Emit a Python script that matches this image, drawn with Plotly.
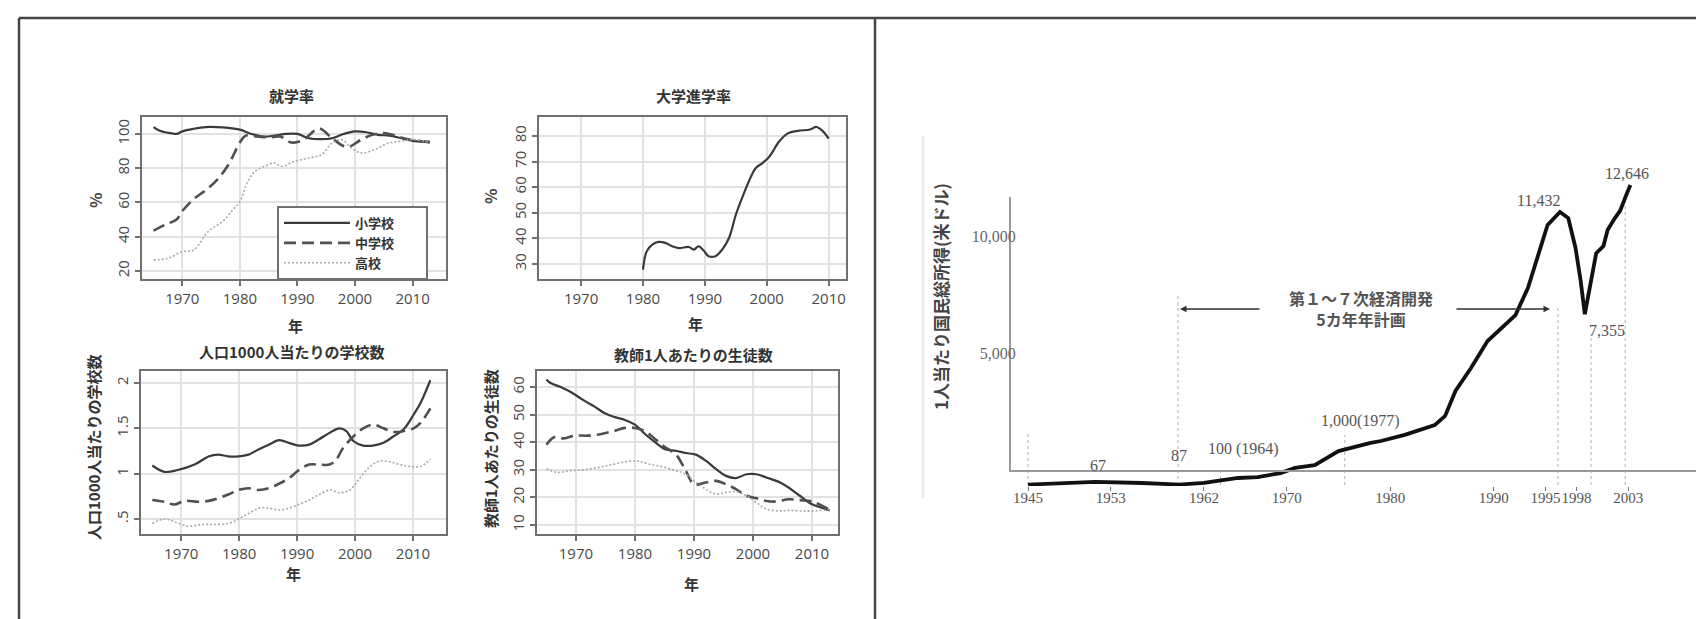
import plotly.graph_objects as go

W, H = 1704, 619

# ---------------- data: 就学率 (%) ----------------
enroll_elem_years = [1965, 1966, 1967, 1968, 1969, 1970, 1972, 1974, 1976, 1978, 1980, 1982, 1984, 1986,
                     1988, 1990, 1992, 1994, 1996, 1998, 2000, 2002, 2004, 2006, 2008, 2010, 2012, 2013]
enroll_elem = [104, 102, 101, 100.5, 100, 101.5, 103, 104, 104, 103.5, 102.5, 100, 98.5, 99,
               100, 100, 97.5, 97, 97.5, 100, 101.5, 101, 99.5, 99, 97.5, 96, 95.5, 95.5]
enroll_mid_years = [1965, 1967, 1969, 1970, 1972, 1974, 1976, 1978, 1980, 1981, 1983, 1985, 1987, 1989,
                    1991, 1993, 1994, 1996, 1998, 1999, 2001, 2003, 2005, 2007, 2009, 2011, 2013]
enroll_mid = [43.5, 47, 50, 55, 62, 67, 73, 82, 95, 99, 98.5, 98, 98.5, 95,
              96.5, 102, 103, 97.5, 93, 92.5, 96.5, 99.5, 100.5, 99, 97, 96, 95]
enroll_high_years = [1965, 1967.5, 1970, 1972, 1974.5, 1977, 1978.5, 1980, 1981.4, 1982.6, 1984.3, 1986,
                     1987.2, 1989.5, 1992, 1994.2, 1996, 1997.7, 1999.4, 2001, 2003.4, 2005.8, 2008, 2010.4, 2013]
enroll_high = [26.4, 27.4, 31.3, 32.3, 43, 48.9, 54.7, 60.6, 72.3, 78.1, 81.1, 83,
               81.1, 84, 86, 87.9, 94.7, 96.7, 91.8, 88.9, 90.8, 94.7, 95.7, 96.7, 95]

# ---------------- data: 大学進学率 (%) ----------------
univ_years = [1980, 1980.6, 1981.5, 1982.5, 1983.6, 1984.7, 1985.8, 1987.4, 1988.2, 1989, 1989.8, 1990.6,
              1991.7, 1992.8, 1993.9, 1995, 1996, 1997.1, 1998.2, 1999.3, 2000.4, 2002, 2003.4, 2005,
              2007, 2008, 2009, 2010]
univ_rate = [27.8, 34.9, 37.5, 38.6, 38.2, 36.9, 36.2, 36.6, 35.6, 36.9, 35.2, 33,
             33, 35.6, 40.1, 49.2, 55.7, 62.2, 67.4, 69.4, 71.9, 77.8, 81, 82,
             82.5, 83.5, 82, 79]

# ---------------- data: 人口1000人当たりの学校数 ----------------
school_elem_years = [1965, 1967.1, 1969.4, 1972.3, 1974.7, 1976.4, 1978.1, 1979.9, 1981.6, 1983.4, 1985.1,
                     1986.9, 1988.6, 1990.3, 1992.1, 1993.8, 1995.6, 1997.3, 1998.5, 1999.7, 2001.4,
                     2003.1, 2004.9, 2006.6, 2008.4, 2010.1, 2011.3, 2013]
school_elem = [1.09, 1.02, 1.04, 1.10, 1.19, 1.21, 1.19, 1.19, 1.21, 1.27, 1.32,
               1.37, 1.34, 1.31, 1.32, 1.38, 1.45, 1.50, 1.47, 1.36, 1.31,
               1.31, 1.34, 1.41, 1.49, 1.65, 1.78, 2.03]
school_mid_years = [1965, 1967.1, 1968.8, 1970.6, 1972.9, 1974.7, 1976.4, 1978.1, 1979.9, 1981.6, 1983.4,
                    1985.1, 1986.9, 1988.6, 1990.3, 1992.1, 1993.8, 1995.6, 1996.7, 1997.9, 1999.7,
                    2001.4, 2003.1, 2004.9, 2006.6, 2008.4, 2010.1, 2011.3, 2013]
school_mid = [0.71, 0.69, 0.66, 0.70, 0.69, 0.70, 0.73, 0.77, 0.82, 0.84, 0.82,
              0.84, 0.89, 0.95, 1.04, 1.10, 1.10, 1.10, 1.15, 1.28, 1.41,
              1.50, 1.54, 1.50, 1.46, 1.47, 1.50, 1.56, 1.72]
school_high_years = [1965, 1967.1, 1968.8, 1971.2, 1973.5, 1975.8, 1978.1, 1979.9, 1981.6, 1983.4, 1985.1,
                     1986.9, 1988.6, 1990.3, 1992.1, 1993.8, 1995.6, 1997.3, 1999.1, 2000.8, 2002.6,
                     2004.3, 2006.0, 2007.8, 2009.5, 2011.3, 2013]
school_high = [0.45, 0.50, 0.47, 0.42, 0.44, 0.44, 0.45, 0.50, 0.56, 0.62, 0.62,
               0.60, 0.62, 0.66, 0.71, 0.77, 0.82, 0.79, 0.82, 0.95, 1.08,
               1.14, 1.13, 1.10, 1.08, 1.08, 1.16]

# ---------------- data: 教師1人あたりの生徒数 ----------------
ratio_elem_years = [1965, 1965.7, 1967.4, 1969.1, 1971.4, 1973.1, 1974.9, 1976.6, 1978.3, 1980, 1981.7,
                    1983.4, 1985.1, 1986.9, 1988.6, 1990.3, 1992, 1993.7, 1995.4, 1997.1, 1998.9,
                    2000.6, 2002.3, 2004.6, 2006, 2008, 2010, 2012, 2013]
ratio_elem = [62.7, 61.5, 60, 58.2, 55.1, 53, 50.5, 49.1, 48.1, 46.4, 43,
              40, 37.5, 36.9, 36.1, 35.5, 33.3, 30.3, 27.8, 27, 28.4,
              28.4, 27.2, 25.4, 23.6, 20.5, 17.5, 16, 15.3]
ratio_mid_years = [1965, 1966.3, 1968, 1969.7, 1972, 1974.3, 1976.6, 1978.3, 1980, 1981.7, 1983.4,
                   1985.1, 1986.9, 1988.6, 1990, 1992, 1993.7, 1995.4, 1997.1, 1998.9, 2000.6,
                   2002.3, 2004, 2006, 2008, 2010, 2013]
ratio_mid = [39.1, 41.8, 41.4, 42.4, 42.4, 43, 44.2, 45.2, 45.2, 44, 41.2,
             38.2, 35.7, 29.7, 24.8, 25.4, 26, 24.8, 23, 20.6, 19.7,
             18.7, 18.5, 19.3, 19, 18.5, 15.5]
ratio_high_years = [1965, 1966.9, 1969.1, 1971.4, 1974.3, 1976.6, 1978.9, 1980.6, 1982.3, 1984.6, 1986.9,
                    1988.6, 1990, 1992, 1993.7, 1995.4, 1997.1, 1998.9, 2000.6, 2002.3, 2004.6,
                    2006, 2009, 2013]
ratio_high = [30.3, 29.1, 29.7, 30, 31.1, 32.1, 33.1, 33.1, 32.1, 31.1, 29.7,
              28.4, 26, 23, 21.2, 21.8, 22.1, 20.6, 18.1, 15.7, 15.1,
              15.3, 15, 15.5]

# ---------------- data: 1人当たり国民総所得 (米ドル) ----------------
gni_years = [1945, 1948, 1951.5, 1956, 1959.6, 1962, 1963.6, 1965.3, 1967.2, 1969.4, 1970.8, 1972.7,
             1975, 1976.9, 1978.1, 1979.1, 1981.4, 1984.3, 1985.3, 1986.3, 1987.8, 1989.4, 1991.1,
             1992.1, 1993.3, 1994.3, 1995.2, 1996.4, 1997.2, 1997.9, 1998.4, 1998.8, 1999.4,
             1999.9, 2000.6, 2001, 2001.7, 2002.2, 2002.8, 2003.2]
gni_values = [20, 85, 130, 85, 20, 87, 210, 300, 340, 510, 730, 850,
              1450, 1670, 1800, 1880, 2140, 2560, 2950, 4020, 5000, 6150, 6840,
              7260, 8420, 9830, 11110, 11670, 11410, 10130, 8720, 7300, 8630,
              9910, 10210, 10900, 11410, 11710, 12390, 12820]
gni_tick_years = [1945, 1953, 1962, 1970, 1980, 1990, 1995, 1998, 2003]
gni_label_ticks = [5000, 10000]
guide_years = [1945, 1959.5, 1963.6, 1975.6, 1996.2, 1999.4, 2002.7]
guide_tops = [2300, 8080, 600, 2140, 7560, 6450, 12480]
point_labels = ["67", "87", "100 (1964)", "1,000(1977)", "11,432", "7,355", "12,646"]


def fx(p):
    return p / W


def fy(p):
    return 1 - p / H


fig = go.Figure()

STYLES = [dict(color="#3a3a3a", width=2.2),
          dict(color="#505050", width=2.6, dash="12px,6px"),
          dict(color="#a8a8a8", width=1.6, dash="2px,2px")]
PAD = "\u00a0" * 9
NAMES = ["<b>小学校</b>" + PAD, "<b>中学校</b>" + PAD, "<b>高校</b>" + PAD]


def add_three(xa, ya, series, legend):
    for (xs, ys), st, nm in zip(series, STYLES, NAMES):
        fig.add_trace(go.Scatter(x=xs, y=ys, mode="lines", line=st, line_shape="spline",
                                 name=nm, showlegend=legend, xaxis=xa, yaxis=ya, hoverinfo="skip"))


add_three("x", "y", [(enroll_elem_years, enroll_elem), (enroll_mid_years, enroll_mid),
                     (enroll_high_years, enroll_high)], True)
fig.add_trace(go.Scatter(x=univ_years, y=univ_rate, mode="lines", line=STYLES[0], line_shape="spline",
                         showlegend=False, xaxis="x2", yaxis="y2", hoverinfo="skip"))
add_three("x3", "y3", [(school_elem_years, school_elem), (school_mid_years, school_mid),
                       (school_high_years, school_high)], False)
add_three("x4", "y4", [(ratio_elem_years, ratio_elem), (ratio_mid_years, ratio_mid),
                       (ratio_high_years, ratio_high)], False)
fig.add_trace(go.Scatter(x=[None], y=[None], mode="lines", showlegend=False,
                         xaxis="x7", yaxis="y6", hoverinfo="skip"))
fig.add_trace(go.Scatter(x=gni_years, y=gni_values, mode="lines",
                         line=dict(color="#111111", width=3.8),
                         showlegend=False, xaxis="x5", yaxis="y5", hoverinfo="skip"))

TICKFONT = dict(family="Open Sans, Noto Sans", size=15, color="#4a4a4a")


def frame_axis(dom, rng, anchor, **kw):
    d = dict(domain=dom, range=rng, anchor=anchor, showline=True, mirror=True,
             linecolor="#707070", linewidth=2, showgrid=True, gridcolor="#e2e2e2",
             gridwidth=1.5, ticks="outside", ticklen=5, tickwidth=1.5, tickcolor="#707070",
             tickfont=TICKFONT, zeroline=False, fixedrange=True)
    d.update(kw)
    return d


xt = dict(tickvals=[1970, 1980, 1990, 2000, 2010])
top_y = [fy(271), fy(109)]
bot_y = [fy(526), fy(363)]

# right chart scale helpers
ZERO_PX = 477.0
PPU = 117.0 / 5000.0


def yr(p):
    return 1945 + (p - 1020) / 10.35


fig.update_layout(
    width=W, height=H, margin=dict(l=0, r=0, t=0, b=0),
    paper_bgcolor="white", plot_bgcolor="rgba(0,0,0,0)", hovermode=False,
    xaxis=frame_axis([fx(134), fx(438)], [1963.0, 2015.8], "y", **xt),
    yaxis=frame_axis(top_y, [15.3, 109.9], "x", tickvals=[20, 40, 60, 80, 100], tickangle=-90),
    xaxis2=frame_axis([fx(531), fx(838)], [1963.2, 2012.8], "y2", **xt),
    yaxis2=frame_axis(top_y, [24.1, 87.4], "x2", tickvals=[30, 40, 50, 60, 70, 80], tickangle=-90),
    xaxis3=frame_axis([fx(133), fx(438)], [1963.05, 2015.7], "y3", **xt),
    yaxis3=frame_axis(bot_y, [0.335, 2.132], "x3", tickvals=[0.5, 1, 1.5, 2],
                      ticktext=[".5", "1", "1.5", "2"], tickangle=-90),
    xaxis4=frame_axis([fx(529), fx(830)], [1963.4, 2014.4], "y4", **xt),
    yaxis4=frame_axis(bot_y, [6.72, 65.84], "x4", tickvals=[10, 20, 30, 40, 50, 60], tickangle=-90),
    xaxis5=dict(domain=[fx(1003), fx(1695)], range=[yr(1003), yr(1695)], anchor="y5",
                showline=False, showgrid=False, zeroline=False, ticks="outside", ticklen=4,
                tickwidth=1.2, tickcolor="#777", tickvals=gni_tick_years, tickangle=0,
                ticklabelstandoff=-6,
                tickfont=dict(family="Liberation Serif", size=15, color="#555"), fixedrange=True),
    yaxis5=dict(domain=[fy(478), fy(130)], range=[-(478 - ZERO_PX) / PPU, (ZERO_PX - 130) / PPU],
                anchor="x5", visible=False, fixedrange=True),
    xaxis7=dict(domain=[fx(1003), fx(1695)], range=[0, 1], anchor="y6", showline=True,
                linecolor="#9a9a9a", linewidth=2, showgrid=False, zeroline=False,
                showticklabels=False, ticks="", fixedrange=True),
    yaxis6=dict(domain=[fy(462), fy(189)], range=[0, (462 - 189) / PPU], anchor="x7",
                showline=True, linecolor="#9a9a9a", linewidth=2, showgrid=False, zeroline=False,
                ticks="", tickvals=gni_label_ticks, tickformat=",", ticklabelstandoff=-10,
                tickfont=dict(family="Liberation Serif", size=16, color="#666"), fixedrange=True),
    legend=dict(x=fx(269), y=fy(198), xanchor="left", yanchor="top", bgcolor="white",
                bordercolor="#707070", borderwidth=2, itemwidth=66,
                font=dict(family="Noto Sans CJK JP", size=13, color="#333")),
)

shapes = []
# outer frame (top, left) and divider
shapes.append(dict(type="line", xref="paper", yref="paper", x0=fx(11), x1=1, y0=fy(10), y1=fy(10),
                   line=dict(color="#444", width=2.5)))
shapes.append(dict(type="line", xref="paper", yref="paper", x0=fx(11), x1=fx(11), y0=0, y1=fy(10),
                   line=dict(color="#444", width=2.5)))
shapes.append(dict(type="line", xref="paper", yref="paper", x0=fx(867), x1=fx(867), y0=0, y1=fy(10),
                   line=dict(color="#444", width=2.5)))
# faint line left of the GNI y title
shapes.append(dict(type="line", xref="paper", yref="paper", x0=fx(915), x1=fx(915), y0=fy(490), y1=fy(128),
                   line=dict(color="#eeeeee", width=3)))
for gx, gt in zip(guide_years, guide_tops):
    shapes.append(dict(type="line", xref="x5", yref="y5", x0=gx, x1=gx, y0=0, y1=gt,
                       line=dict(color="#bdbdbd", width=1.2, dash="dot"), layer="below"))
fig.update_layout(shapes=shapes)

ann = []
JP = "Noto Sans CJK JP"


def text(t, x, y, size=15, color="#333", angle=0, family=JP):
    ann.append(dict(text=t, x=fx(x), y=fy(y), xref="paper", yref="paper", showarrow=False,
                    xanchor="center", yanchor="middle", textangle=angle,
                    font=dict(family=family, size=size, color=color)))


text("<b>就学率</b>", 283, 87)
text("<b>大学進学率</b>", 685, 87)
text("<b>人口1000人当たりの学校数</b>", 283, 343)
text("<b>教師1人あたりの生徒数</b>", 685, 347)
text("<b>年</b>", 287, 317)
text("<b>年</b>", 687, 315)
text("<b>年</b>", 285, 565)
text("<b>年</b>", 683, 575)
text("<b>%</b>", 87, 193, angle=-90, size=16, color="#444")
text("<b>%</b>", 482, 188, angle=-90, size=16, color="#444")
text("<b>人口1000人当たりの学校数</b>", 85, 440, angle=-90)
text("<b>教師1人あたりの生徒数</b>", 482, 440, angle=-90)
text("<b>1人当たり国民総所得(米ドル)</b>", 932, 289, angle=-90, size=17, color="#444")
text("<b>第１～７次経済開発</b><br><b>5カ年年計画</b>", 1353, 300, size=16, color="#555")

label_pos = [(1090, 457), (1171, 447), (1235, 441), (1352, 413), (1530, 192), (1599, 322), (1619, 165)]
for t, (x, y) in zip(point_labels, label_pos):
    text(t, x, y, size=16, color="#555", family="Liberation Serif")

# arrows of the plan period
for head, tail in [(1172, 1253), (1542, 1447)]:
    ann.append(dict(text="", x=fx(head), y=fy(301), xref="paper", yref="paper", showarrow=True,
                    ax=tail - head, ay=0, arrowhead=2, arrowsize=1, arrowwidth=1.3,
                    arrowcolor="#333"))

fig.update_layout(annotations=ann)
fig.write_html("out.html")
